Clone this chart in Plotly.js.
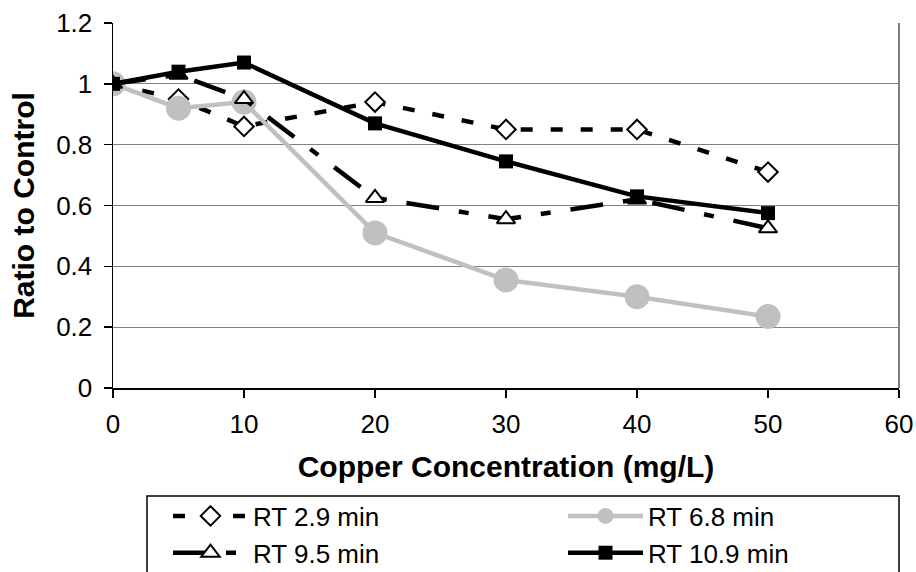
<!DOCTYPE html>
<html>
<head>
<meta charset="utf-8">
<script src="https://cdn.plot.ly/plotly-3.0.1.min.js"></script>
<style>html,body{margin:0;padding:0;background:#fff;}#chart{width:916px;height:572px;}</style>
</head>
<body>
<div id="chart"></div>
<script>
// Data
var concentration = [0, 5, 10, 20, 30, 40, 50];
var rt29 = [1.0, 0.95, 0.86, 0.94, 0.85, 0.85, 0.71];
var rt68 = [1.0, 0.92, 0.94, 0.51, 0.355, 0.30, 0.235];
var rt95 = [1.0, 1.03, 0.95, 0.625, 0.555, 0.62, 0.525];
var rt109 = [1.0, 1.04, 1.07, 0.87, 0.745, 0.63, 0.575];
var seriesNames = ['RT 2.9 min', 'RT 6.8 min', 'RT 9.5 min', 'RT 10.9 min'];
var xTicks = [0, 10, 20, 30, 40, 50, 60];
var yTicks = [0, 0.2, 0.4, 0.6, 0.8, 1, 1.2];

var FONT = 'Liberation Sans, Arial, sans-serif';

var traces = [
  {
    x: concentration, y: rt29, name: seriesNames[0], type: 'scatter', mode: 'lines+markers',
    legend: 'legend',
    line: {color: '#000000', width: 4.5, dash: '12px,18px'},
    marker: {symbol: 'diamond', size: 15, color: '#ffffff', line: {color: '#000000', width: 2}}
  },
  {
    x: concentration, y: rt68, name: seriesNames[1], type: 'scatter', mode: 'lines+markers',
    legend: 'legend2',
    line: {color: '#c0c0c0', width: 4.5},
    marker: {symbol: 'circle', size: 25, color: '#c0c0c0'}
  },
  {
    x: concentration, y: rt95, name: seriesNames[2], type: 'scatter', mode: 'lines+markers',
    legend: 'legend',
    line: {color: '#000000', width: 4.5, dash: '33px,20px,10px,20px'},
    marker: {symbol: 'triangle-up', size: 16, color: '#ffffff', line: {color: '#000000', width: 2}}
  },
  {
    x: concentration, y: rt109, name: seriesNames[3], type: 'scatter', mode: 'lines+markers',
    legend: 'legend2',
    line: {color: '#000000', width: 4.5},
    marker: {symbol: 'square', size: 14, color: '#000000'}
  }
];

var legendCommon = {
  orientation: 'v',
  xanchor: 'left',
  y: (388 - 492.5) / 365, yanchor: 'top',
  bgcolor: 'rgba(0,0,0,0)', borderwidth: 0,
  font: {family: FONT, size: 26, color: '#000000'},
  itemwidth: 75,
  traceorder: 'normal'
};

var layout = {
  width: 916, height: 572,
  margin: {l: 113, r: 17, t: 23, b: 184, pad: 0, autoexpand: false},
  paper_bgcolor: '#ffffff', plot_bgcolor: '#ffffff',
  font: {family: FONT, size: 26, color: '#000000'},
  showlegend: true,
  xaxis: {
    range: [0, 60], tickvals: xTicks, ticktext: xTicks.map(String),
    showgrid: false, zeroline: false,
    showline: true, linecolor: '#000000', linewidth: 1.5,
    ticks: 'outside', ticklen: 8, tickwidth: 1.5, tickcolor: '#000000',
    tickfont: {family: FONT, size: 26, color: '#000000'},
    ticklabelstandoff: 4,
    title: {text: 'Copper Concentration (mg/L)', font: {family: FONT, size: 30, color: '#000000', weight: 'bold'}, standoff: 18},
    automargin: false
  },
  yaxis: {
    range: [0, 1.2], tickvals: yTicks, ticktext: ['0', '0.2', '0.4', '0.6', '0.8', '1', '1.2'],
    showgrid: true, gridcolor: '#808080', gridwidth: 1,
    zeroline: false,
    showline: true, linecolor: '#000000', linewidth: 1.5,
    ticks: 'outside', ticklen: 8, tickwidth: 1.5, tickcolor: '#000000',
    tickfont: {family: FONT, size: 26, color: '#000000'},
    ticklabelstandoff: 6,
    title: {text: 'Ratio to Control', font: {family: FONT, size: 30, color: '#000000', weight: 'bold'}, standoff: 12},
    automargin: false
  },
  legend: Object.assign({}, legendCommon, {x: (168 - 113) / 786}),
  legend2: Object.assign({}, legendCommon, {x: (563 - 113) / 786}),
  shapes: [
    {type: 'line', xref: 'paper', yref: 'paper', x0: 1, x1: 1, y0: 0, y1: 1,
     line: {color: '#808080', width: 2}},
    {type: 'rect', xref: 'paper', yref: 'paper',
     x0: (147 - 113) / 786, x1: 1, y0: -0.60, y1: (388 - 496) / 365,
     line: {color: '#000000', width: 1.5}, fillcolor: 'rgba(0,0,0,0)', layer: 'below'}
  ]
};

Plotly.newPlot('chart', traces, layout, {staticPlot: true, displayModeBar: false});
</script>
</body>
</html>
